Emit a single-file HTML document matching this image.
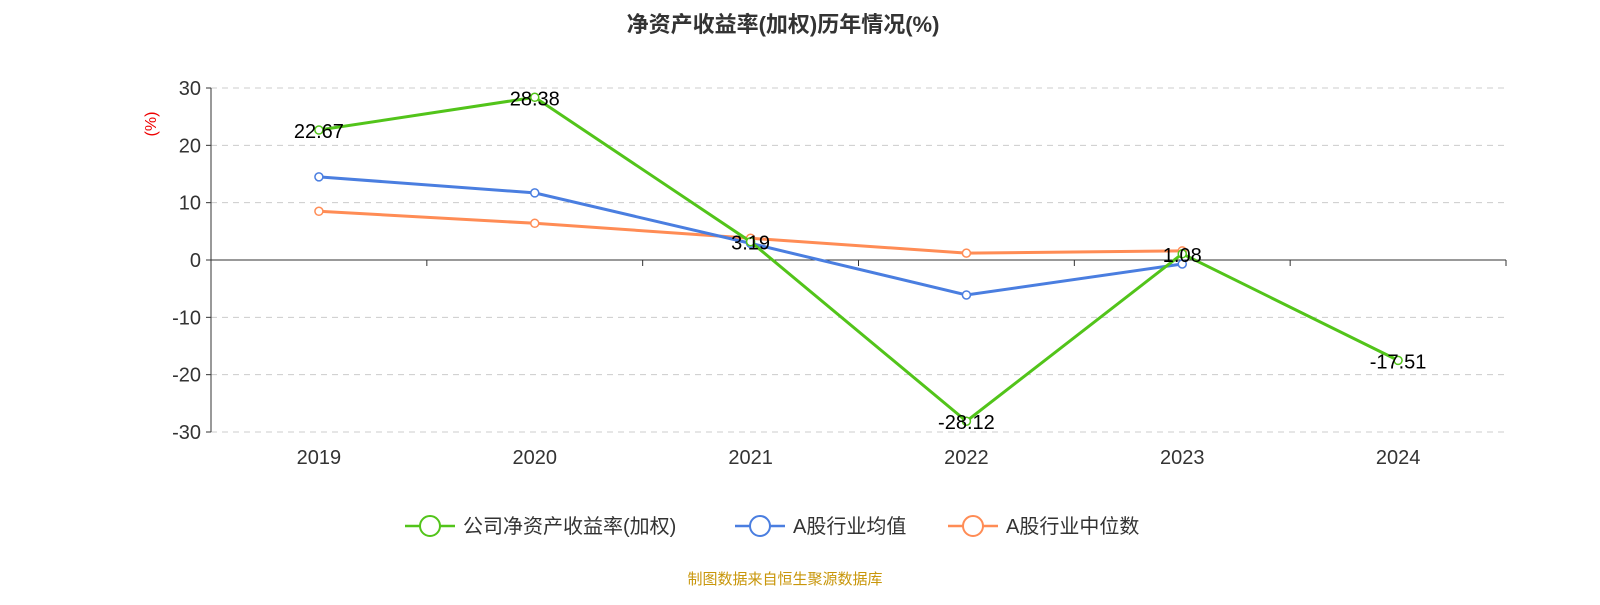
<!DOCTYPE html>
<html><head><meta charset="utf-8"><style>
body{margin:0;background:#fff;width:1600px;height:600px;overflow:hidden;font-family:"Liberation Sans","Noto Sans CJK SC",sans-serif}
</style></head><body>
<svg id="chart" width="1600" height="600" xmlns="http://www.w3.org/2000/svg" font-family="Liberation Sans, Noto Sans CJK SC, sans-serif">
<text x="783" y="32" text-anchor="middle" font-size="22" font-weight="bold" fill="#333">净资产收益率(加权)历年情况(%)</text>
<text x="156" y="124" transform="rotate(-90 156 124)" text-anchor="middle" font-size="16" fill="#e00">(%)</text>
<g id="grid"></g><g id="series"></g>
<g font-size="20" fill="#333">
<g><line x1="405" y1="526" x2="455" y2="526" stroke="#52c41a" stroke-width="2.5"/><circle cx="430" cy="526" r="10" fill="#fff" stroke="#52c41a" stroke-width="2"/><text x="463" y="533">公司净资产收益率(加权)</text></g>
<g><line x1="735" y1="526" x2="785" y2="526" stroke="#4a7ee0" stroke-width="2.5"/><circle cx="760" cy="526" r="10" fill="#fff" stroke="#4a7ee0" stroke-width="2"/><text x="793" y="533">A股行业均值</text></g>
<g><line x1="948" y1="526" x2="998" y2="526" stroke="#ff8c55" stroke-width="2.5"/><circle cx="973" cy="526" r="10" fill="#fff" stroke="#ff8c55" stroke-width="2"/><text x="1006" y="533">A股行业中位数</text></g>
</g>
<text x="785" y="584" text-anchor="middle" font-size="15" fill="#c8960a">制图数据来自恒生聚源数据库</text>
</svg>
<script>
const categories=["2019","2020","2021","2022","2023","2024"];
const yTicks=[30,20,10,0,-10,-20,-30];
const company=[22.67,28.38,3.19,-28.12,1.08,-17.51];
const industryMean=[14.5,11.7,2.9,-6.1,-0.7,null];
const industryMedian=[8.5,6.4,3.8,1.2,1.6,null];
const NS="http://www.w3.org/2000/svg";
const x0=211,x1=1506,yTop=88,yBot=432;
const xScale=i=>x0+(x1-x0)/categories.length*(i+0.5);
const yScale=v=>yTop+(30-v)/60*(yBot-yTop);
function mk(tag,attrs,parent){const e=document.createElementNS(NS,tag);for(const k in attrs)e.setAttribute(k,attrs[k]);parent.appendChild(e);return e;}
const g=document.getElementById('grid');
yTicks.forEach(t=>{const y=yScale(t);
 if(t!==0){const l=mk('line',{x1:x0,x2:x1,y1:y,y2:y,stroke:'#ccc','stroke-dasharray':'6,5'},g);}
 const tk=mk('line',{x1:x0-5,x2:x0,y1:y,y2:y,stroke:'#333'},g);
 const tx=mk('text',{x:x0-10,y:y+7,'text-anchor':'end','font-size':20,fill:'#333'},g);tx.textContent=t;});
const ya=mk('line',{x1:x0,x2:x0,y1:yTop,y2:yBot,stroke:'#333'},g);
const xa=mk('line',{x1:x0,x2:x1,y1:yScale(0),y2:yScale(0),stroke:'#333'},g);
for(let i=0;i<=categories.length;i++){const x=x0+(x1-x0)/categories.length*i;const t=mk('line',{x1:x,x2:x,y1:yScale(0),y2:yScale(0)+6,stroke:'#333'},g);}
categories.forEach((c,i)=>{const t=mk('text',{x:xScale(i),y:464,'text-anchor':'middle','font-size':20,fill:'#333'},g);t.textContent=c;});
const s=document.getElementById('series');
function drawSeries(data,color,name,labels){
 const pts=data.map((v,i)=>v==null?null:[xScale(i),yScale(v)]).filter(p=>p);
 const p=mk('polyline',{points:pts.map(q=>q.join(',')).join(' '),fill:'none',stroke:color,'stroke-width':3},s);
 
 data.forEach((v,i)=>{if(v==null)return;
  const c=mk('circle',{cx:xScale(i),cy:yScale(v),r:4,fill:'#fff',stroke:color,'stroke-width':1.5},s);
  
  if(labels){const t=mk('text',{x:xScale(i),y:yScale(v)+8,'text-anchor':'middle','font-size':20,fill:'#000'},s);t.textContent=v.toFixed(2);}
 });
}
drawSeries(industryMedian,'#ff8c55','industry-median',false);
drawSeries(industryMean,'#4a7ee0','industry-mean',false);
drawSeries(company,'#52c41a','company',true);
</script>
</body></html>
